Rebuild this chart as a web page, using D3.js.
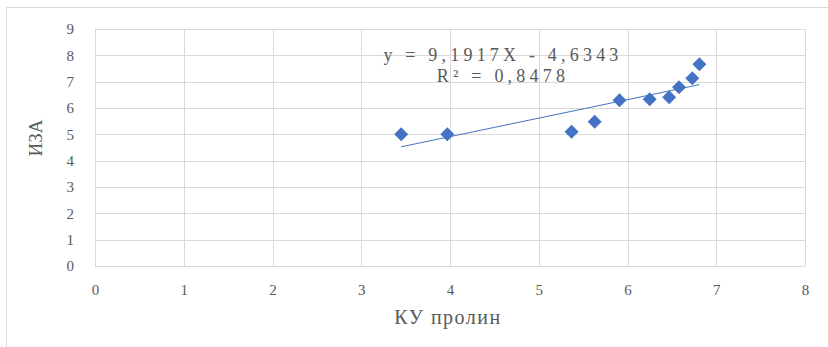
<!DOCTYPE html>
<html><head><meta charset="utf-8">
<script src="https://d3js.org/d3.v7.min.js"></script>
</head><body style="margin:0">
<svg id="c" width="828" height="347" style="display:block;font-family:'Liberation Serif'"></svg>
<script>
const kuProlin = [3.45, 3.97, 5.37, 5.63, 5.91, 6.25, 6.47, 6.58, 6.73, 6.81];
const iza      = [5.00, 5.00, 5.10, 5.48, 6.29, 6.33, 6.41, 6.79, 7.13, 7.66];
const xTicks = [0,1,2,3,4,5,6,7,8];
const yTicks = [0,1,2,3,4,5,6,7,8,9];
const equationLines = ["y = 9,1917X - 4,6343", "R² = 0,8478"];
const xTitle = "КУ пролин";
const yTitle = "ИЗА";

const FF = '"Liberation Serif"';
const svg = d3.select("#c");
const x = d3.scaleLinear().domain([0,8]).range([95,805]);
const y = d3.scaleLinear().domain([0,9]).range([266,29]);
const grey = "#595959";

svg.append("rect").attr("x",6.5).attr("y",7.5).attr("width",830).attr("height",350)
  .attr("fill","none").attr("stroke","#d9d9d9").attr("stroke-width",1);

svg.append("g").selectAll("line").data(yTicks).join("line")
  .attr("x1",x(0)).attr("x2",x(8))
  .attr("y1",d=>Math.round(y(d))+0.5).attr("y2",d=>Math.round(y(d))+0.5)
  .attr("stroke","#d9d9d9");
svg.append("g").selectAll("line").data(xTicks).join("line")
  .attr("y1",y(0)).attr("y2",y(9))
  .attr("x1",d=>Math.round(x(d))+0.5).attr("x2",d=>Math.round(x(d))+0.5)
  .attr("stroke","#d9d9d9");

const xAxis = svg.append("g").attr("transform",`translate(0,${y(0)})`)
  .call(d3.axisBottom(x).tickValues(xTicks).tickSize(0).tickPadding(18).tickFormat(d3.format("d")));
const yAxis = svg.append("g").attr("transform",`translate(${x(0)},0)`)
  .call(d3.axisLeft(y).tickValues(yTicks).tickSize(0).tickPadding(21).tickFormat(d3.format("d")));
[xAxis,yAxis].forEach(a=>{
  a.select(".domain").remove();
  a.attr("font-family","Liberation Serif").attr("font-size",15);
  a.selectAll("text").attr("fill",grey).style("font-family",FF).style("font-size","15px");
});

const mx = d3.mean(kuProlin), my = d3.mean(iza);
const b = d3.sum(kuProlin.map((v,i)=>(v-mx)*(iza[i]-my))) / d3.sum(kuProlin.map(v=>(v-mx)*(v-mx)));
const a0 = my - b*mx;
const xmin = d3.min(kuProlin), xmax = d3.max(kuProlin);
svg.append("line")
  .attr("x1",x(xmin)).attr("y1",y(a0+b*xmin))
  .attr("x2",x(xmax)).attr("y2",y(a0+b*xmax))
  .attr("stroke","#4472C4").attr("stroke-width",1);

const sym = d3.symbol().type(d3.symbolDiamond2).size(125);
svg.append("g").selectAll("path").data(kuProlin.map((v,i)=>[v,iza[i]])).join("path")
  .attr("d",sym)
  .attr("transform",d=>`translate(${x(d[0])},${y(d[1])})`)
  .attr("fill","#4472C4");

svg.append("g").selectAll("text").data(equationLines).join("text")
  .attr("x",503).attr("y",(d,i)=>61+i*21)
  .attr("text-anchor","middle")
  .attr("fill",grey).style("font-family",FF).style("font-size","18px")
  .style("letter-spacing","4.2px")
  .text(d=>d);

svg.append("text").attr("x",448).attr("y",324).attr("text-anchor","middle")
  .attr("fill",grey).style("font-family",FF).style("font-size","20px").style("letter-spacing","1.5px").text(xTitle);
svg.append("text").attr("transform","translate(42,138) rotate(-90)").attr("text-anchor","middle")
  .attr("fill",grey).style("font-family",FF).style("font-size","19px").text(yTitle);
</script>
</body></html>
